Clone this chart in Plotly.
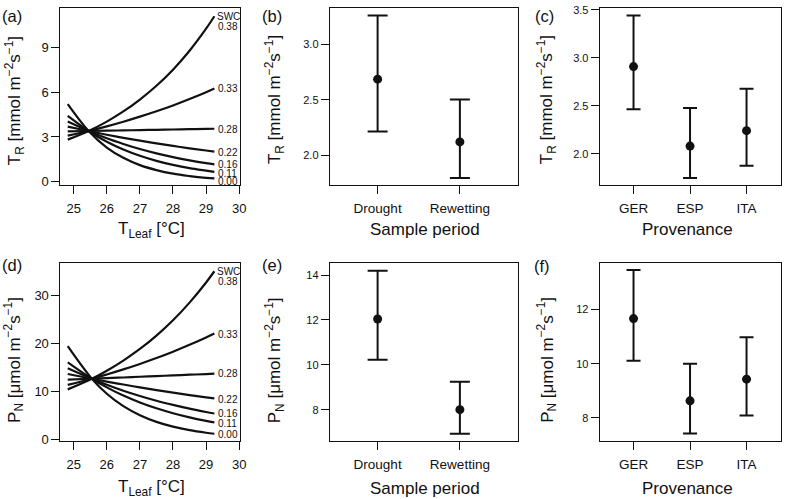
import plotly.graph_objects as go

# ---------------- data ----------------
swc_labels = ["0.38", "0.33", "0.28", "0.22", "0.16", "0.11", "0.00"]

# (a) transpiration vs leaf temperature for different soil water contents
t_leaf_a = [24.82, 25.45, 26.0, 26.5, 27.0, 27.5, 28.0, 28.5, 29.0, 29.25]
tr_038 = [2.82, 3.40, 4.03, 4.71, 5.51, 6.43, 7.51, 8.78, 10.26, 11.09]
tr_033 = [3.09, 3.40, 3.71, 4.02, 4.36, 4.72, 5.11, 5.54, 6.00, 6.25]
tr_028 = [3.38, 3.40, 3.42, 3.44, 3.46, 3.48, 3.50, 3.52, 3.54, 3.55]
tr_022 = [3.69, 3.40, 3.15, 2.94, 2.75, 2.57, 2.40, 2.24, 2.09, 2.02]
tr_016 = [4.03, 3.40, 2.91, 2.53, 2.19, 1.90, 1.65, 1.43, 1.24, 1.16]
tr_011 = [4.41, 3.40, 2.68, 2.16, 1.74, 1.40, 1.13, 0.91, 0.74, 0.66]
tr_000 = [5.20, 3.40, 2.29, 1.60, 1.11, 0.78, 0.54, 0.38, 0.26, 0.22]
tr_label_y = [10.42, 6.27, 3.53, 1.97, 1.16, 0.57, 0.02]
tr_swc_title_y = 11.08

# (d) net photosynthesis vs leaf temperature
t_leaf_d = [24.82, 25.55, 26.0, 26.5, 27.0, 27.5, 28.0, 28.5, 29.0, 29.25]
pn_038 = [10.48, 12.70, 14.37, 16.49, 18.91, 21.70, 24.89, 28.58, 32.78, 35.12]
pn_033 = [11.43, 12.70, 13.59, 14.65, 15.79, 17.01, 18.34, 19.77, 21.31, 22.12]
pn_028 = [12.51, 12.70, 12.83, 12.96, 13.11, 13.25, 13.39, 13.54, 13.68, 13.76]
pn_022 = [13.68, 12.70, 12.11, 11.49, 10.90, 10.34, 9.80, 9.30, 8.82, 8.59]
pn_016 = [14.90, 12.70, 11.46, 10.21, 9.11, 8.12, 7.25, 6.46, 5.76, 5.44]
pn_011 = [16.13, 12.70, 10.90, 9.19, 7.75, 6.53, 5.51, 4.65, 3.92, 3.60]
pn_000 = [19.50, 12.70, 9.56, 6.98, 5.09, 3.71, 2.71, 1.97, 1.44, 1.23]
pn_label_y = [33.07, 21.9, 13.7, 8.39, 5.45, 3.27, 1.08]
pn_swc_title_y = 35.1

# (b), (e) sample period
periods = ["Drought", "Rewetting"]
tr_period_mean = [2.685, 2.12]
tr_period_upper = [3.259, 2.503]
tr_period_lower = [2.214, 1.794]
pn_period_mean = [12.04, 8.00]
pn_period_upper = [14.19, 9.24]
pn_period_lower = [10.22, 6.93]

# (c), (f) provenance
provenances = ["GER", "ESP", "ITA"]
tr_prov_mean = [2.908, 2.079, 2.24]
tr_prov_upper = [3.44, 2.477, 2.676]
tr_prov_lower = [2.464, 1.747, 1.874]
pn_prov_mean = [11.66, 8.63, 9.43]
pn_prov_upper = [13.45, 10.00, 10.97]
pn_prov_lower = [10.11, 7.43, 8.09]

# ---------------- figure ----------------
W, H = 789, 499
FONT = "Liberation Sans, Arial, Helvetica, sans-serif"
INK = "#111111"

fig = go.Figure()

def px(x):
    return x / W

def py(y):
    return 1 - y / H

tr_curves = [tr_038, tr_033, tr_028, tr_022, tr_016, tr_011, tr_000]
pn_curves = [pn_038, pn_033, pn_028, pn_022, pn_016, pn_011, pn_000]

for ys in tr_curves:
    fig.add_trace(go.Scatter(x=t_leaf_a, y=ys, mode="lines", xaxis="x", yaxis="y",
                             line=dict(color=INK, width=2.2, shape="spline", smoothing=1.0),
                             showlegend=False, hoverinfo="skip"))
for ys in pn_curves:
    fig.add_trace(go.Scatter(x=t_leaf_d, y=ys, mode="lines", xaxis="x4", yaxis="y4",
                             line=dict(color=INK, width=2.2, shape="spline", smoothing=1.0),
                             showlegend=False, hoverinfo="skip"))


def err_trace(n, mean, upper, lower, xa, ya, capw):
    xs = list(range(1, n + 1))
    return go.Scatter(
        x=xs, y=mean, mode="markers", xaxis=xa, yaxis=ya,
        marker=dict(color=INK, size=9, line=dict(width=0)),
        error_y=dict(type="data", symmetric=False,
                     array=[u - m for u, m in zip(upper, mean)],
                     arrayminus=[m - l for m, l in zip(mean, lower)],
                     color=INK, thickness=2, width=capw),
        showlegend=False, hoverinfo="skip")

fig.add_trace(err_trace(2, tr_period_mean, tr_period_upper, tr_period_lower, "x2", "y2", 10))
fig.add_trace(err_trace(3, tr_prov_mean, tr_prov_upper, tr_prov_lower, "x3", "y3", 7))
fig.add_trace(err_trace(2, pn_period_mean, pn_period_upper, pn_period_lower, "x5", "y5", 10))
fig.add_trace(err_trace(3, pn_prov_mean, pn_prov_upper, pn_prov_lower, "x6", "y6", 7))

# domains (paper)
xd_a = [px(61), px(242)]
xd_b = [px(332.7), px(523)]
xd_c = [px(605), px(788)]
yd_top = [py(185), py(4)]
yd_bot = [py(446), py(264.5)]

axis_common = dict(showline=True, linecolor=INK, linewidth=1, mirror=True,
                   ticks="outside", ticklen=8, tickwidth=1, tickcolor=INK,
                   showgrid=False, zeroline=False, fixedrange=True,
                   ticklabeloverflow="allow")

def xax(domain, anchor, rng, tickvals, ticktext=None, size=13):
    d = dict(axis_common)
    d.update(domain=domain, anchor=anchor, range=rng, tickvals=tickvals,
             ticklabelstandoff=3,
             tickfont=dict(family=FONT, size=size, color=INK))
    if ticktext is not None:
        d["ticktext"] = ticktext
    return d

def yax(domain, anchor, rng, tickvals, ticktext=None, size=13):
    d = dict(axis_common)
    d.update(domain=domain, anchor=anchor, range=rng, tickvals=tickvals,
             tickfont=dict(family=FONT, size=size, color=INK))
    if ticktext is not None:
        d["ticktext"] = ticktext
    return d

fig.update_layout(
    width=W, height=H,
    margin=dict(l=0, r=0, t=0, b=0),
    paper_bgcolor="white", plot_bgcolor="white",
    font=dict(family=FONT, color=INK),
    showlegend=False,
    xaxis=xax(xd_a, "y", [24.6, 30.02], [25, 26, 27, 28, 29, 30], size=13),
    yaxis=yax(yd_top, "x", [-0.24, 11.65], [0, 3, 6, 9], size=13),
    xaxis2=xax(xd_b, "y2", [0.418, 2.711], [1, 2], periods, size=13.5),
    yaxis2=yax(yd_top, "x2", [1.729, 3.327], [2.0, 2.5, 3.0], ["2.0", "2.5", "3.0"], size=11),
    xaxis3=xax(xd_c, "y3", [0.4, 3.61], [1, 2, 3], provenances, size=13.5),
    yaxis3=yax(yd_top, "x3", [1.67, 3.52], [2.0, 2.5, 3.0, 3.5], ["2.0", "2.5", "3.0", "3.5"], size=11),
    xaxis4=xax(xd_a, "y4", [24.6, 30.02], [25, 26, 27, 28, 29, 30], size=13),
    yaxis4=yax(yd_bot, "x4", [-0.3, 36.8], [0, 10, 20, 30], size=13),
    xaxis5=xax(xd_b, "y5", [0.418, 2.711], [1, 2], periods, size=13.5),
    yaxis5=yax(yd_bot, "x5", [6.6, 14.53], [8, 10, 12, 14], size=11),
    xaxis6=xax(xd_c, "y6", [0.4, 3.61], [1, 2, 3], provenances, size=13.5),
    yaxis6=yax(yd_bot, "x6", [7.15, 13.7], [8, 10, 12], size=11),
)

ann = []

# SWC line labels
def line_labels(xref, yref, title_y, label_ys):
    out = [dict(x=29.3, y=title_y, xref=xref, yref=yref, text="SWC", showarrow=False,
                xanchor="left", yanchor="middle", borderpad=0,
                font=dict(family=FONT, size=10, color=INK))]
    for lab, yv in zip(swc_labels, label_ys):
        out.append(dict(x=29.33, y=yv, xref=xref, yref=yref, text=lab, showarrow=False,
                        xanchor="left", yanchor="middle", borderpad=0,
                        font=dict(family=FONT, size=10, color=INK)))
    return out

ann += line_labels("x", "y", tr_swc_title_y, tr_label_y)
ann += line_labels("x4", "y4", pn_swc_title_y, pn_label_y)

# panel letters
for lab, x0, y0 in [("(a)", 0.5, 12), ("(b)", 262, 12), ("(c)", 538, 12),
                    ("(d)", 0.5, 266), ("(e)", 262, 266), ("(f)", 537, 267)]:
    ann.append(dict(x=px(x0), y=py(y0), xref="paper", yref="paper", text=lab,
                    showarrow=False, xanchor="left", yanchor="middle",
                    font=dict(family=FONT, size=16.5, color=INK)))

tr_title = "T<sub>R</sub> [mmol m<sup>−2</sup>s<sup>−1</sup>]"
pn_title = "P<sub>N</sub> [μmol m<sup>−2</sup>s<sup>−1</sup>]"
for txt, x0, y0 in [(tr_title, 14.3, 99), (tr_title, 276.5, 98), (tr_title, 551.5, 97.5),
                    (pn_title, 14.3, 363), (pn_title, 277, 364), (pn_title, 552, 363)]:
    ann.append(dict(x=px(x0), y=py(y0), xref="paper", yref="paper", text=txt,
                    textangle=-90, showarrow=False, xanchor="center", yanchor="middle",
                    font=dict(family=FONT, size=17, color=INK)))

tleaf_title = "T<sub>Leaf</sub> [°C]"
for txt, x0, y0 in [(tleaf_title, 153, 231), ("Sample period", 428.5, 230.5), ("Provenance", 693.5, 230.5),
                    (tleaf_title, 153, 494), ("Sample period", 428.5, 494), ("Provenance", 693.5, 494)]:
    ann.append(dict(x=px(x0), y=py(y0), xref="paper", yref="paper", text=txt,
                    showarrow=False, xanchor="center", yanchor="middle", borderpad=0,
                    font=dict(family=FONT, size=17, color=INK)))

fig.update_layout(annotations=ann)

fig.write_html("out.html",
               config={"displayModeBar": False, "staticPlot": True},
               post_script="document.body.style.margin='0';document.body.style.padding='0';")
